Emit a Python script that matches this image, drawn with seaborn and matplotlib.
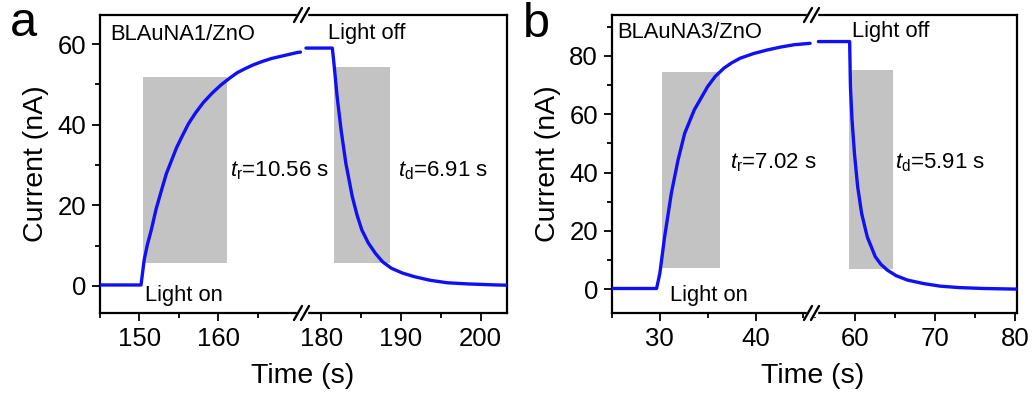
import matplotlib
matplotlib.use('Agg')
import matplotlib.pyplot as plt
from matplotlib.lines import Line2D
from matplotlib.patches import Rectangle
import seaborn as sns

# Panel a: BLAuNA1/ZnO
a_rise_t = [145, 150.2, 150.6, 151.0, 151.5, 152.1, 152.8, 153.4, 154.1, 154.7, 155.4, 156.2, 157.1,
            158.1, 159.2, 160.3, 161.4, 162.4, 163.5, 164.5, 165.6, 166.7, 167.8, 168.9, 170.0, 170.4]
a_rise_i = [0.25, 0.25, 6.5, 10.2, 13.9, 19.0, 23.8, 27.8, 31.3, 34.3, 37.1, 40.2, 42.9,
            45.5, 47.8, 49.8, 51.5, 52.9, 54.0, 54.9, 55.7, 56.4, 56.9, 57.4, 57.9, 58.0]
a_fall_t = [178.1, 181.4, 181.6, 182.0, 182.5, 183.1, 183.9, 184.5, 185.1, 185.9, 186.8, 187.7,
            188.8, 190.2, 191.7, 193.7, 195.8, 198.5, 202.0, 203.3]
a_fall_i = [59.0, 59.0, 55.3, 47.0, 38.7, 30.4, 22.2, 17.6, 13.9, 10.7, 8.1, 6.0,
            4.4, 3.2, 2.3, 1.4, 0.8, 0.5, 0.25, 0.2]
a_rise_box = [150.5, 161.1, 5.8, 51.8]   # t0, t1, i0, i1
a_fall_box = [181.6, 188.6, 5.6, 54.3]

# Panel b: BLAuNA3/ZnO
b_rise_t = [25, 29.66, 30.0, 30.5, 31.2, 31.9, 32.6, 33.6, 35.0, 35.8, 36.7, 37.5, 38.4,
            39.8, 41.2, 42.6, 44.0, 45.7]
b_rise_i = [0.3, 0.3, 5.5, 18.0, 32.9, 44.3, 53.5, 61.5, 69.5, 73.0, 75.8, 77.6, 79.2,
            80.8, 82.0, 83.0, 83.8, 84.3]
b_fall_t = [55.4, 59.3, 59.4, 59.6, 59.9, 60.3, 60.8, 61.5, 62.5, 63.2, 64.0, 65.1, 66.5,
            68.5, 70.6, 73.0, 76.0, 79.8, 80.2]
b_fall_i = [84.9, 84.9, 69.5, 58.0, 46.6, 35.2, 26.0, 18.0, 11.2, 8.6, 6.6, 4.7, 3.2,
            2.0, 1.1, 0.6, 0.3, 0.1, 0.1]
b_rise_box = [30.25, 36.3, 7.2, 74.4]
b_fall_box = [59.25, 64.7, 6.9, 75.2]

sns.set_theme(style='ticks')
plt.rcParams['font.family'] = ['Liberation Sans', 'DejaVu Sans']
plt.rcParams['mathtext.fontset'] = 'custom'
plt.rcParams['mathtext.rm'] = 'Liberation Sans'
plt.rcParams['mathtext.it'] = 'Liberation Sans:italic'
for k in ('text.color', 'axes.labelcolor', 'xtick.color', 'ytick.color', 'axes.edgecolor'):
    plt.rcParams[k] = 'black'

W, H = 1035, 394
fig = plt.figure(figsize=(W / 100, H / 100), dpi=100)
TOP, BOT = 15, 313
BLUE = '#1010f5'
GRAY = '#c3c3c3'


def add_ax(x0, x1, sharey=None):
    return fig.add_axes([x0 / W, (H - BOT) / H, (x1 - x0) / W, (BOT - TOP) / H], sharey=sharey)


def style_ax(ax):
    for s in ax.spines.values():
        s.set_linewidth(1.6)
        s.set_color('black')
    ax.tick_params(which='both', direction='out', top=False, right=False,
                   width=1.3, color='black', labelcolor='black', labelsize=18.5, pad=4.5)
    ax.tick_params(which='major', length=5.5)
    ax.tick_params(which='minor', length=3.5)


def draw_break(xpx):
    for ypx in (TOP, BOT):
        fy = 1 - ypx / H
        fig.patches.append(Rectangle(((xpx - 5) / W, fy - 3 / H), 10 / W, 6 / H,
                                     transform=fig.transFigure, color='white', zorder=5))
        for dx in (-4, 3):
            fig.lines.append(Line2D([(xpx + dx - 4) / W, (xpx + dx + 4) / W],
                                    [fy - 7 / H, fy + 7 / H], transform=fig.transFigure,
                                    color='black', lw=1.7, zorder=6))


def panel(x0, xb, x1, lims_l, lims_r, ylim, segs, boxes, yticks, yminor,
          xt_l, xm_l, xt_r, xm_r):
    axl = add_ax(x0, xb)
    axr = add_ax(xb, x1, sharey=axl)
    for ax, (t, i), box in zip((axl, axr), segs, boxes):
        ax.fill_between([box[0], box[1]], box[2], box[3], color=GRAY, lw=0, zorder=1)
        sns.lineplot(x=t, y=i, ax=ax, color=BLUE, linewidth=2.4, zorder=3)
        style_ax(ax)
        ax.set_xlabel('')
    axl.set_xlim(*lims_l)
    axr.set_xlim(*lims_r)
    axl.set_ylim(*ylim)
    axl.set_yticks(yticks)
    axl.set_yticks(yminor, minor=True)
    axl.set_xticks(xt_l)
    axl.set_xticks(xm_l, minor=True)
    axr.set_xticks(xt_r)
    axr.set_xticks(xm_r, minor=True)
    axl.spines['right'].set_visible(False)
    axr.spines['left'].set_visible(False)
    axr.tick_params(axis='y', which='both', left=False, labelleft=False)
    axl.set_ylabel('Current (nA)', fontsize=20.5, labelpad=6)
    axr.set_ylabel('')
    draw_break(xb)
    fig.text((xb + 1) / W, 1 - 376 / H, 'Time (s)', fontsize=20.5, ha='center', va='center')
    return axl, axr


panel(100, 302, 507, (145, 170.6), (177.6, 203.3), (-6.7, 67.2),
      [(a_rise_t, a_rise_i), (a_fall_t, a_fall_i)], [a_rise_box, a_fall_box],
      [0, 20, 40, 60], [10, 30, 50], [150, 160], [145, 155, 165], [180, 190, 200], [185, 195])
panel(612, 812, 1017, (25, 45.9), (54.6, 80.2), (-8.1, 94.0),
      [(b_rise_t, b_rise_i), (b_fall_t, b_fall_i)], [b_rise_box, b_fall_box],
      [0, 20, 40, 60, 80], [10, 30, 50, 70, 90], [30, 40], [25, 35, 45], [60, 70, 80], [55, 65, 75])


def label(xpx, ypx, s, **kw):
    fig.text(xpx / W, 1 - ypx / H, s, va='center', ha='left', **kw)


label(110, 34, 'BLAuNA1/ZnO', fontsize=15.8)
label(328, 33, 'Light off', fontsize=15.8)
label(145, 296, 'Light on', fontsize=15.8)
label(230, 171, r'$\mathit{t}_\mathrm{r}$=10.56 s', fontsize=16)
label(398, 171, r'$\mathit{t}_\mathrm{d}$=6.91 s', fontsize=16)

label(617, 32, 'BLAuNA3/ZnO', fontsize=15.8)
label(852, 32, 'Light off', fontsize=15.8)
label(670, 296, 'Light on', fontsize=15.8)
label(730, 163, r'$\mathit{t}_\mathrm{r}$=7.02 s', fontsize=16)
label(895, 163, r'$\mathit{t}_\mathrm{d}$=5.91 s', fontsize=16)

fig.text(10 / W, 1 - 36 / H, 'a', fontsize=35, va='baseline', ha='left')
fig.text(523 / W, 1 - 37 / H, 'b', fontsize=35, va='baseline', ha='left')

fig.savefig('out.png', dpi=100)
